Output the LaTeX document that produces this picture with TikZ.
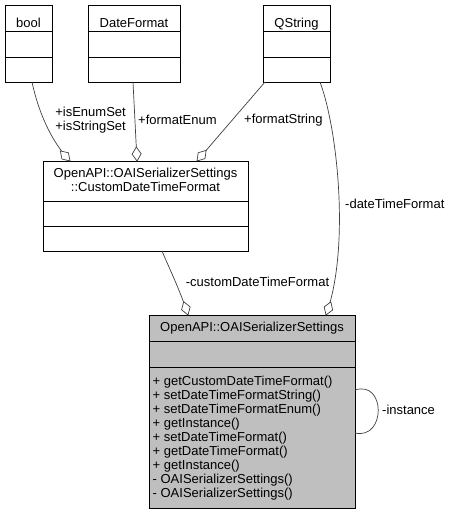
\documentclass[tikz,border=0pt]{standalone}
\usepackage{fontspec}
\setmainfont{Liberation Sans}
\usetikzlibrary{calc,decorations.markings}
\begin{document}
\begin{tikzpicture}[x=1pt,y=-1pt,
  cls/.style={draw=black, line width=0.8pt, inner sep=0pt, outer sep=0pt, anchor=north west},
  divline/.style={draw=black, line width=0.8pt},
  lbl/.style={font=\fontsize{13}{14}\selectfont, inner sep=0pt},
  assoc/.style={draw=black!75, line width=0.7pt,
    postaction={decorate},
    decoration={markings, mark=at position 1 with {
      \draw[black!75, fill=white, line width=0.7pt, line join=miter]
        (0,0) -- (-7,4.5) -- (-14,0) -- (-7,-4.5) -- cycle;}}},
]
\useasboundingbox (0,0) rectangle (453,515);
\fill[white] (0,0) rectangle (453,515);

% top classes
\node[cls, minimum width=47pt, minimum height=77pt] (bool) at (5,5) {};
\node[cls, minimum width=92pt, minimum height=77pt] (datefmt) at (88,5) {};
\node[cls, minimum width=67pt, minimum height=77pt] (qstring) at (263,5) {};
\foreach \n in {bool,datefmt,qstring}{
  \draw[divline] (\n.west |- 0,31) -- (\n.east |- 0,31);
  \draw[divline] (\n.west |- 0,57) -- (\n.east |- 0,57);
}
\node[lbl, anchor=base] (tbool) at ($(bool.north)+(0,22.5)$) {bool};
\node[lbl, anchor=base] (tdate) at ($(datefmt.north)+(0,22.5)$) {DateFormat};
\node[lbl, anchor=base] (tqs) at ($(qstring.north)+(0,22.5)$) {QString};

% CustomDateTimeFormat
\node[cls, minimum width=205pt, minimum height=90pt] (cdtf) at (43,161) {};
\draw[divline] (cdtf.west |- 0,201) -- (cdtf.east |- 0,201);
\draw[divline] (cdtf.west |- 0,226) -- (cdtf.east |- 0,226);
\node[lbl, anchor=base] (tcdtf1) at (145.5,177.5) {OpenAPI::OAISerializerSettings};
\node[lbl, anchor=base] (tcdtf2) at (145.5,191.5) {::CustomDateTimeFormat};

% main class
\node[cls, fill=black!25, minimum width=206pt, minimum height=193pt] (main) at (149,315) {};
\draw[divline] (main.west |- 0,341) -- (main.east |- 0,341);
\draw[divline] (main.west |- 0,367) -- (main.east |- 0,367);
\node[lbl, anchor=base] (tmain) at (252,331.5) {OpenAPI::OAISerializerSettings};
\foreach \t [count=\i from 0] in {%
  + getCustomDateTimeFormat(),
  + setDateTimeFormatString(),
  + setDateTimeFormatEnum(),
  + getInstance(),
  + setDateTimeFormat(),
  + getDateTimeFormat(),
  + getInstance(),
  - OAISerializerSettings(),
  - OAISerializerSettings()}{
  \node[lbl, anchor=base west] (m\i) at (152.5,{385.5+14*\i}) {\t};
}

% connectors
\coordinate (bs) at ($(bool.south west)+(27,0)$);
\coordinate (ce1) at ($(cdtf.north west)+(27,0)$);
\draw[assoc] (bs) .. controls (38,110) and (50,140) .. (ce1);
\node[lbl, anchor=east, align=right] (lb1) at (126,120) {+isEnumSet\\+isStringSet};

\coordinate (ds) at ($(datefmt.south west)+(45,0)$);
\coordinate (ce2) at ($(cdtf.north west)+(94,0)$);
\draw[assoc] (ds) -- (ce2);
\node[lbl, anchor=west] (lb2) at (138,120) {+formatEnum};

\coordinate (qs1) at ($(qstring.south west)+(2,0)$);
\coordinate (ce3) at ($(cdtf.north west)+(154,0)$);
\draw[assoc] (qs1) -- (ce3);
\node[lbl, anchor=west] (lb3) at (244,120) {+formatString};

\coordinate (qs2) at ($(qstring.south west)+(57,0)$);
\coordinate (me1) at ($(main.north west)+(177,0)$);
\draw[assoc] (qs2) .. controls (338,130) and (350,250) .. (me1);
\node[lbl, anchor=west] (lb4) at (345,204) {-dateTimeFormat};

\coordinate (cs) at ($(cdtf.south west)+(119,0)$);
\coordinate (me2) at ($(main.north west)+(39,0)$);
\draw[assoc] (cs) .. controls (170,270) and (180,290) .. (me2);
\node[lbl, anchor=center] (lb5) at (257.5,282) {-customDateTimeFormat};

\coordinate (ls) at ($(main.north east)+(0,75)$);
\coordinate (le) at ($(main.north east)+(0,118)$);
\draw[assoc] (ls) .. controls (386,380) and (386,440) .. (le);
\node[lbl, anchor=west] (lb6) at (382,410) {-instance};
\end{tikzpicture}
\end{document}
